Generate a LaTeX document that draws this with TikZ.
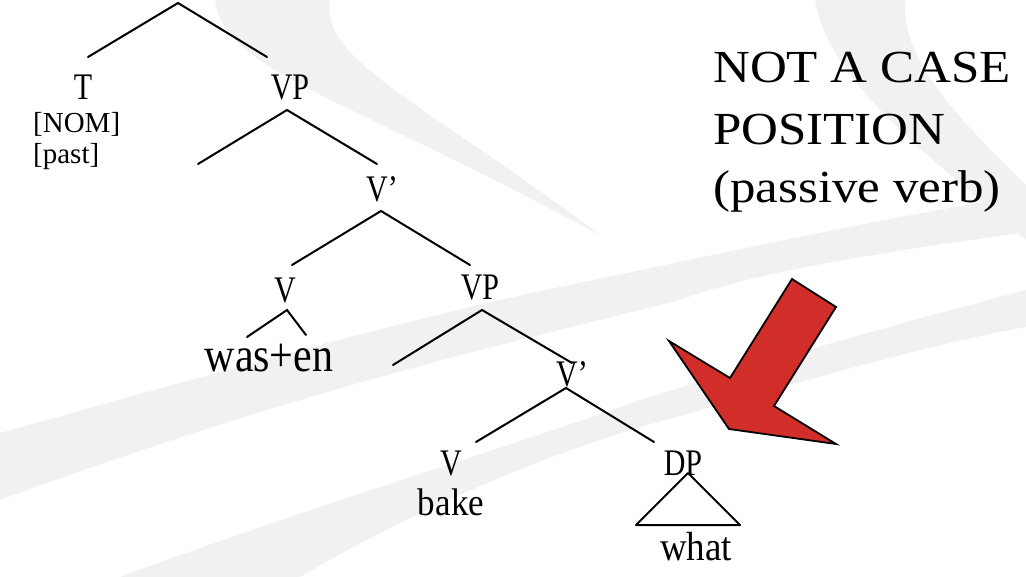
\documentclass[tikz,border=0pt]{standalone}
\usepackage{fontspec}
\setmainfont{Liberation Serif}
\definecolor{swooshgray}{rgb}{0.945,0.945,0.945}
\definecolor{arrowred}{rgb}{0.82,0.18,0.16}
\begin{document}
\begin{tikzpicture}[
x=1pt,y=-1pt,
every node/.append style={inner sep=0pt,anchor=base},
cat/.style={font={\fontsize{30}{36}\selectfont},yscale=1.25},
feat/.style={font={\fontsize{29}{32}\selectfont},anchor=base west},
word/.style={font={\fontsize{35}{40}\selectfont},yscale=1.1},
note/.style={font={\fontsize{51}{60}\selectfont},yscale=0.9,anchor=base west},
branch/.style={line width=2pt,line cap=round},
swoosh/.style={fill=swooshgray,draw=none},
]
\useasboundingbox (0,0) rectangle (1026,577);

% background swooshes
\fill[swoosh] (0,433) .. controls (180,383) and (400,320) .. (560,287)
  .. controls (760,245) and (900,215) .. (1026,195) -- (1026,232)
  .. controls (900,250) and (760,270) .. (680,300)
  .. controls (500,345) and (300,390) .. (0,500) -- cycle;
\fill[swoosh] (120,577) .. controls (300,510) and (500,450) .. (640,400)
  .. controls (800,350) and (950,310) .. (1026,290) -- (1026,327)
  .. controls (900,350) and (760,395) .. (640,427)
  .. controls (500,470) and (380,530) .. (300,577) -- cycle;
\fill[swoosh] (215,0) .. controls (225,70) and (330,90) .. (600,235)
  .. controls (420,100) and (320,60) .. (330,0) -- cycle;
\fill[swoosh] (815,0) .. controls (830,90) and (950,170) .. (1026,240)
  -- (1026,185) .. controls (960,120) and (900,60) .. (905,0) -- cycle;

% tree labels
\node[cat] (T) at (83,100) {T};
\node[feat] (nom) at (33,133) {[NOM]};
\node[feat] (past) at (33,164) {[past]};
\node[cat] (VPa) at (290,100) {VP};
\node[cat] (Vbara) at (382,202) {V’};
\node[cat] (Va) at (285,303) {V};
\node[word,font={\fontsize{42}{46}\selectfont},yscale=1.05] (wasen) at (269,372) {was+en};
\node[cat] (VPb) at (480,300) {VP};
\node[cat] (Vbarb) at (572,387) {V’};
\node[cat] (Vb) at (451,475) {V};
\node[word] (bake) at (451,515) {bake};
\node[cat] (DP) at (683,475) {DP};
\node[word,font={\fontsize{37}{40}\selectfont}] (what) at (696,560) {what};

% branch points
\coordinate (root) at (178,3);
\coordinate (rootl) at (88,57);
\coordinate (rootr) at (267,57);
\coordinate (vpa) at (287,110);
\coordinate (vpal) at (198,164);
\coordinate (vpar) at (377,164);
\coordinate (vbara) at (381,211);
\coordinate (vbaral) at (292,265);
\coordinate (vbarar) at (470,265);
\coordinate (va) at (287,310);
\coordinate (val) at (247,337);
\coordinate (var) at (306,335);
\coordinate (vpb) at (482,310);
\coordinate (vpbl) at (393,365);
\coordinate (vpbr) at (572,363);
\coordinate (vbarb) at (566,388);
\coordinate (vbarbl) at (476,442);
\coordinate (vbarbr) at (654,442);
\coordinate (dp) at (688,473);
\coordinate (dpl) at (636,525);
\coordinate (dpr) at (740,525);

\draw[branch] (rootl) -- (root) -- (rootr);
\draw[branch] (vpal) -- (vpa) -- (vpar);
\draw[branch] (vbaral) -- (vbara) -- (vbarar);
\draw[branch] (val) -- (va) -- (var);
\draw[branch] (vpbl) -- (vpb) -- (vpbr);
\draw[branch] (vbarbl) -- (vbarb) -- (vbarbr);
\draw[branch,line join=round] (dp) -- (dpl) -- (dpr) -- cycle;

% comment
\node[note] (note1) at (713,83) {NOT A CASE};
\node[note] (note2) at (713,145) {POSITION};
\node[note] (note3) at (713,203) {(passive verb)};

% big arrow
\draw[fill=arrowred,line width=1.8pt,line join=miter]
  (792,279) -- (836,307) -- (774,406) -- (836,444) -- (729,429)
  -- (669,341) -- (730,378) -- cycle;

\end{tikzpicture}
\end{document}
